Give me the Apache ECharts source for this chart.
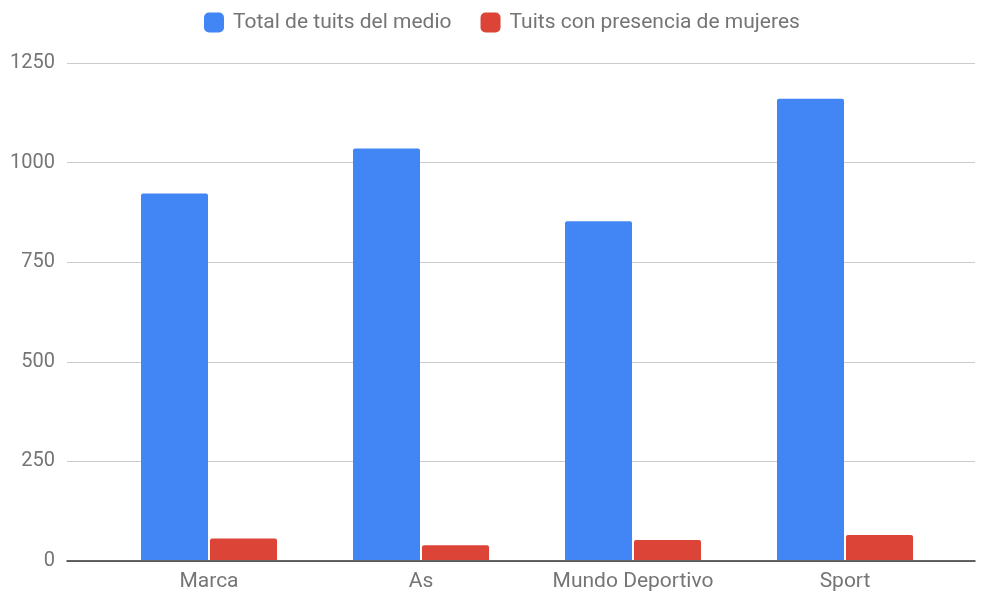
<!DOCTYPE html>
<html>
<head>
<meta charset="utf-8">
<script src="https://cdn.jsdelivr.net/npm/echarts@6/dist/echarts.min.js"></script>
<style>html,body{margin:0;padding:0;background:#fff}#c{width:988px;height:592px}</style>
</head>
<body>
<div id="c"></div>
<script>
const categories = ['Marca', 'As', 'Mundo Deportivo', 'Sport'];
const totalTuits = [922, 1035, 852, 1160];
const tuitsMujeres = [54, 37, 50, 63];
const seriesNames = ['Total de tuits del medio', 'Tuits con presencia de mujeres'];
const yTicks = { min: 0, max: 1250, interval: 250 };

const chart = echarts.init(document.getElementById('c'));
const font = 'Roboto, "Noto Sans", sans-serif';
chart.setOption({
  animation: false,
  textStyle: { fontFamily: font },
  legend: {
    top: 7, left: 199,
    itemWidth: 20, itemHeight: 20, itemGap: 29,
    icon: 'roundRect',
    textStyle: { fontSize: 21, color: '#757575', fontFamily: font, padding: [0, 0, 0, 4] },
    data: seriesNames
  },
  grid: [
    { left: 67, right: 13, top: 63, bottom: 31 },
    { left: 103, right: 37, top: 63, bottom: 31 }
  ],
  xAxis: [
    { gridIndex: 0, type: 'category', data: [''], axisLabel: { show: false }, axisTick: { show: false },
      axisLine: { show: true, lineStyle: { color: '#333', width: 1.5 } } },
    { gridIndex: 1, type: 'category', data: categories, axisTick: { show: false }, axisLine: { show: false },
      axisLabel: { fontSize: 21, color: '#757575', margin: 11, fontFamily: font } }
  ],
  yAxis: [
    { gridIndex: 0, type: 'value', min: yTicks.min, max: yTicks.max, interval: yTicks.interval,
      axisLine: { show: false }, axisTick: { show: false },
      splitLine: { lineStyle: { color: '#cccccc', width: 1 } },
      axisLabel: { fontSize: 20, color: '#757575', margin: 12, fontFamily: font, formatter: v => String(v) } },
    { gridIndex: 1, type: 'value', min: yTicks.min, max: yTicks.max, interval: yTicks.interval, show: false,
      splitLine: { show: false } }
  ],
  series: [
    { name: seriesNames[0], type: 'bar', xAxisIndex: 1, yAxisIndex: 1, data: totalTuits,
      barWidth: 67, barGap: '3%', itemStyle: { color: '#4285f4', borderRadius: [2, 2, 0, 0] } },
    { name: seriesNames[1], type: 'bar', xAxisIndex: 1, yAxisIndex: 1, data: tuitsMujeres,
      barWidth: 67, barGap: '3%', itemStyle: { color: '#db4437', borderRadius: [2, 2, 0, 0] } }
  ]
});
</script>
</body>
</html>
